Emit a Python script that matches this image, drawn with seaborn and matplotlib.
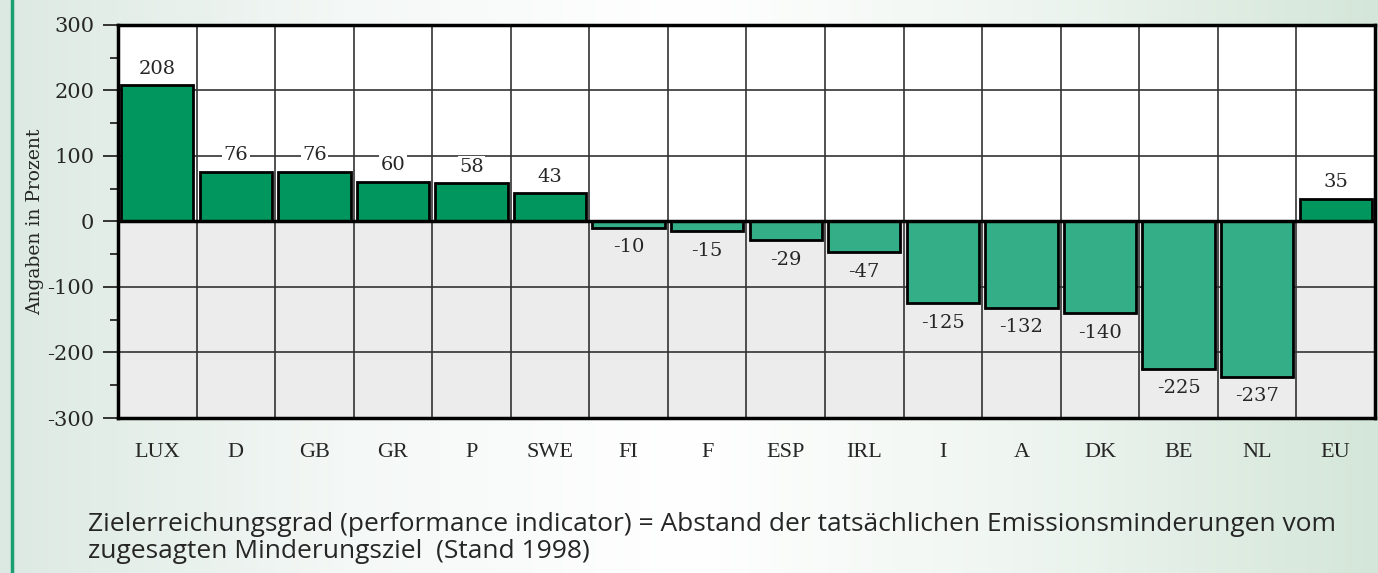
import numpy as np
import pandas as pd
import matplotlib.pyplot as plt
import seaborn as sns
from matplotlib.lines import Line2D
from matplotlib.colors import LinearSegmentedColormap

countries = ['LUX', 'D', 'GB', 'GR', 'P', 'SWE', 'FI', 'F', 'ESP', 'IRL', 'I', 'A', 'DK', 'BE', 'NL', 'EU']
values = [208, 76, 76, 60, 58, 43, -10, -15, -29, -47, -125, -132, -140, -225, -237, 35]
y_ticks = [-300, -200, -100, 0, 100, 200, 300]
y_minor = [-250, -150, -50, 50, 150, 250]
y_label = 'Angaben in Prozent'
caption = ('Zielerreichungsgrad (performance indicator) = Abstand der tatsächlichen Emissionsminderungen vom\n'
           'zugesagten Minderungsziel  (Stand 1998)')

pos_color = '#00965e'
neg_color = '#34ae86'

df = pd.DataFrame({'country': countries, 'value': values})
bar_colors = [pos_color if v >= 0 else neg_color for v in values]

sns.set_style('white')
plt.rcParams['font.family'] = ['DejaVu Serif']
plt.rcParams['axes.unicode_minus'] = False

fig = plt.figure(figsize=(13.78, 5.73), dpi=100)

# background gradient + green border on the left
bg = fig.add_axes([0, 0, 1, 1], zorder=-10)
grad = np.linspace(0, 1, 256).reshape(1, -1)
bg_cmap = LinearSegmentedColormap.from_list('bg', ['#dce9e2', '#f4f8f6', '#ffffff', '#eef5f0', '#d4e6d9'])
bg.imshow(grad, aspect='auto', cmap=bg_cmap, extent=[0, 1, 0, 1])
bg.axis('off')
fig.add_artist(Line2D([0.0085, 0.0085], [0, 1], color='#1aa070', lw=2.5))

ax = fig.add_axes([0.0856, 0.2705, 0.9122, 0.686])
ax.set_facecolor('none')
ax.axhspan(0, 300, color='white', zorder=0)
ax.axhspan(-300, 0, color='#ececec', zorder=0)
for y in [-200, -100, 100, 200]:
    ax.axhline(y, color='#333333', lw=1.2, zorder=1)
for i in range(len(countries) - 1):
    ax.axvline(i + 0.5, color='#333333', lw=1.2, zorder=1)

sns.barplot(data=df, x='country', y='value', hue='country', palette=bar_colors, legend=False,
            width=0.92, edgecolor='black', linewidth=2, saturation=1, ax=ax, zorder=2)
ax.axhline(0, color='black', lw=2.5, zorder=3)

for i, v in enumerate(values):
    ax.annotate(str(v), (i, v), xytext=(0, 12 if v > 0 else -14), textcoords='offset points',
                ha='center', va='center', fontsize=14, family='DejaVu Serif',
                bbox=dict(fc='white' if v > 0 else '#ececec', ec='none', pad=1), zorder=4)

ax.set_xlim(-0.5, len(countries) - 0.5)
ax.set_ylim(-300, 300)
ax.set_yticks(y_ticks)
ax.set_yticks(y_minor, minor=True)
ax.tick_params(axis='y', which='major', length=11, width=1.3, pad=6, labelsize=15, left=True)
ax.tick_params(axis='y', which='minor', length=6, width=1.3, left=True)
ax.tick_params(axis='x', length=0, pad=18, labelsize=16, labelfontfamily='Liberation Serif')
for s in ax.spines.values():
    s.set_visible(True)
    s.set_color('black')
    s.set_linewidth(2.5)
    s.set_zorder(5)

ax.set_xlabel('')
ax.set_ylabel(y_label, fontsize=13.5)
ax.yaxis.set_label_coords(-0.059, 0.5)

fig.text(0.0639, 0.107, caption, ha='left', va='top', fontsize=19, family='Open Sans', linespacing=1.12)

fig.savefig('out.png', dpi=100)
